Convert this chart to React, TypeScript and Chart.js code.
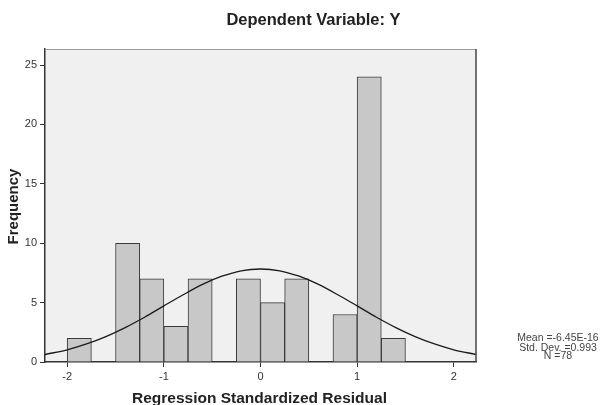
import React, { useEffect, useRef } from "react";
import { Chart, registerables } from "chart.js";

Chart.register(...registerables);

const binCenters = [-1.875, -1.625, -1.375, -1.125, -0.875, -0.625, -0.375, -0.125, 0.125, 0.375, 0.625, 0.875, 1.125, 1.375];
const binCounts = [2, 0, 10, 7, 3, 7, 0, 7, 5, 7, 0, 4, 24, 2];

const curveX = [-2.23, -2.0, -1.8, -1.6, -1.4, -1.2, -1.0, -0.8, -0.6, -0.4, -0.2, 0, 0.2, 0.4, 0.6, 0.8, 1.0, 1.2, 1.4, 1.6, 1.8, 2.0, 2.23];
const curveY = [0.63, 1.03, 1.52, 2.14, 2.9, 3.77, 4.72, 5.66, 6.53, 7.22, 7.68, 7.83, 7.68, 7.22, 6.53, 5.66, 4.72, 3.77, 2.9, 2.14, 1.52, 1.03, 0.63];

const xTickValues = [-2, -1, 0, 1, 2];
const yTickValues = [0, 5, 10, 15, 20, 25];

const titleText = "Dependent Variable: Y";
const xTitle = "Regression Standardized Residual";
const yTitle = "Frequency";
const statsLines = ["Mean =-6.45E-16", "Std. Dev. =0.993", "N =78"];

const FONT = "'Liberation Sans', Arial, sans-serif";

const framePlugin = {
  id: "frame",
  beforeDraw(chart: any) {
    const { ctx, chartArea: a } = chart;
    ctx.save();
    ctx.fillStyle = "#f0f0f0";
    ctx.fillRect(a.left, a.top, a.right - a.left, a.bottom - a.top);
    ctx.restore();
  },
  afterDraw(chart: any) {
    const { ctx, chartArea: a } = chart;
    ctx.save();
    ctx.lineWidth = 1;
    ctx.strokeStyle = "#9a9a9a";
    ctx.beginPath();
    ctx.moveTo(a.left, a.top + 0.5);
    ctx.lineTo(a.right, a.top + 0.5);
    ctx.stroke();
    ctx.strokeStyle = "#444";
    ctx.lineWidth = 1.5;
    ctx.beginPath();
    ctx.moveTo(a.right, a.top);
    ctx.lineTo(a.right, a.bottom);
    ctx.stroke();

    ctx.fillStyle = "#222";
    ctx.textAlign = "center";
    ctx.textBaseline = "alphabetic";
    ctx.font = `bold 16.5px ${FONT}`;
    ctx.fillText(titleText, 313.5, 25);
    ctx.font = `bold 15.5px ${FONT}`;
    ctx.fillText(xTitle, 259.5, 403);
    ctx.save();
    ctx.translate(17.5, 206.5);
    ctx.rotate(-Math.PI / 2);
    ctx.font = `bold 15px ${FONT}`;
    ctx.fillText(yTitle, 0, 0);
    ctx.restore();

    ctx.fillStyle = "#444";
    ctx.font = `10.5px ${FONT}`;
    const baselines = [341, 350.5, 359];
    statsLines.forEach((t, i) => ctx.fillText(t, 558, baselines[i]));
    ctx.restore();
  },
};

export default function App() {
  const ref = useRef<HTMLCanvasElement | null>(null);
  useEffect(() => {
    if (!ref.current) return;
    const chart = new Chart(ref.current, {
      type: "bar",
      data: {
        datasets: [
          {
            type: "line",
            data: curveX.map((x, i) => ({ x, y: curveY[i] })),
            borderColor: "#1a1a1a",
            borderWidth: 1.3,
            pointRadius: 0,
            cubicInterpolationMode: "monotone",
            fill: false,
            order: 0,
          } as any,
          {
            type: "bar",
            data: binCenters.map((x, i) => ({ x, y: binCounts[i] })),
            backgroundColor: "#c8c8c8",
            borderColor: "#3a3a3a",
            borderWidth: 1,
            barPercentage: 1,
            categoryPercentage: 1,
            order: 1,
          } as any,
        ],
      },
      options: {
        animation: false,
        responsive: true,
        maintainAspectRatio: false,
        layout: { padding: { top: 49, right: 127, left: 0, bottom: 0 } },
        plugins: { legend: { display: false }, tooltip: { enabled: false }, title: { display: false } },
        scales: {
          x: {
            type: "linear",
            min: -2.23,
            max: 2.23,
            offset: false,
            afterFit: (s: any) => { s.height = 43; },
            afterBuildTicks: (s: any) => { s.ticks = xTickValues.map((v) => ({ value: v })); },
            grid: { offset: false, drawOnChartArea: false, drawTicks: true, tickLength: 5, color: "#333", lineWidth: 1 },
            border: { display: true, color: "#333", width: 1.5 },
            ticks: { color: "#333", font: { family: FONT, size: 11 }, padding: 3, maxRotation: 0 },
          },
          y: {
            type: "linear",
            min: 0,
            max: 26.35,
            afterFit: (s: any) => { s.width = 45; },
            afterBuildTicks: (s: any) => { s.ticks = yTickValues.map((v) => ({ value: v })); },
            grid: { drawOnChartArea: false, drawTicks: true, tickLength: 5, color: "#333", lineWidth: 1 },
            border: { display: true, color: "#333", width: 1.5 },
            ticks: { color: "#333", font: { family: FONT, size: 11 }, padding: 3 },
          },
        },
      },
      plugins: [framePlugin],
    } as any);
    return () => chart.destroy();
  }, []);
  return (
    <div style={{ position: "absolute", left: 0, top: 0, width: 603, height: 405, background: "#fff" }}>
      <canvas ref={ref} />
    </div>
  );
}
